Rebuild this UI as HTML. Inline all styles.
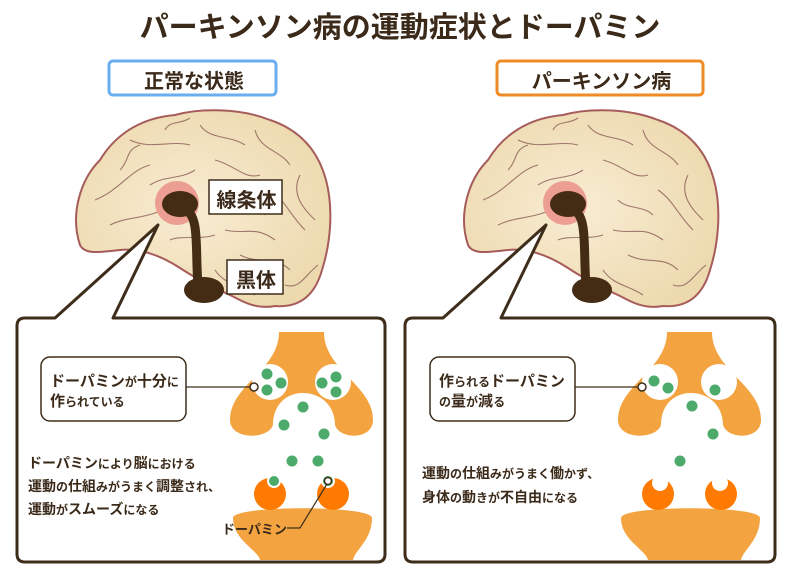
<!DOCTYPE html>
<html><head><meta charset="utf-8"><style>
body{margin:0;width:800px;height:578px;background:#fff;overflow:hidden;font-family:"Liberation Sans","Noto Sans CJK JP",sans-serif;color:#3b2a1a}
.t{position:absolute;font-weight:bold;white-space:nowrap}
.s{font-size:12px}
</style></head><body>
<svg width="800" height="578" style="position:absolute;left:0;top:0">
<defs>
<radialGradient id="bg" cx="45%" cy="50%" r="60%"><stop offset="0" stop-color="#f8ecd2"/><stop offset="1" stop-color="#ecd9ae"/></radialGradient>
<g id="brain">
<path d="M80,245 C70,215 80,180 100,160 C115,135 140,118 175,115 C200,108 240,108 270,120 C300,130 318,150 326,180 C334,210 330,245 322,270 C315,295 300,308 275,306 C255,310 240,300 232,296 C215,288 195,278 180,268 C160,255 140,248 120,250 C100,252 85,255 80,245 Z" fill="url(#bg)" stroke="#a65c5a" stroke-width="2"/>
<g fill="none" stroke="#8a5a55" stroke-width="1.1" opacity=".8">
<path d="M95,200 C120,190 130,170 150,165 M110,225 C130,215 150,220 170,205 M130,140 C150,150 170,140 190,145 M200,125 C210,140 230,135 245,145 M255,130 C260,150 280,150 290,165 M300,175 C290,195 305,210 315,220 M150,185 C165,175 180,180 195,170 M215,160 C235,165 245,180 260,175 M270,190 C285,200 290,215 305,230 M225,230 C245,235 255,225 275,240 M240,255 C260,265 275,255 290,270 M215,270 C225,285 240,285 255,295 M285,285 C300,290 305,275 318,265 M170,240 C180,235 200,240 215,235 M120,170 C130,160 125,150 140,145 M165,130 C170,120 180,125 190,118 M230,200 C240,210 255,205 265,215"/>
</g>
</g>
</defs>
<use href="#brain"/>
<use href="#brain" x="388"/>
<!-- left pathway -->
<circle cx="177" cy="203" r="22" fill="#ec9e92"/>
<path d="M185,210 C200,215 195,250 198,285" stroke="#442b14" stroke-width="9" fill="none" stroke-linecap="round"/>
<ellipse cx="180" cy="204" rx="18" ry="13" fill="#442b14"/>
<ellipse cx="204" cy="290" rx="20" ry="13" fill="#442b14"/>
<circle cx="565" cy="203" r="22" fill="#ec9e92"/>
<path d="M573,210 C588,215 583,250 586,285" stroke="#442b14" stroke-width="9" fill="none" stroke-linecap="round"/>
<ellipse cx="568" cy="204" rx="18" ry="13" fill="#442b14"/>
<ellipse cx="592" cy="290" rx="20" ry="13" fill="#442b14"/>
<!-- callouts -->
<g stroke="#3e2d1a" stroke-width="3" fill="#fff" stroke-linejoin="round">
<path d="M25,318 L55,318 L158,225 L113,318 L377,318 Q385,318 385,326 L385,554 Q385,562 377,562 L25,562 Q17,562 17,554 L17,326 Q17,318 25,318 Z"/>
<path d="M413,318 L443,318 L546,225 L501,318 L767,318 Q775,318 775,326 L775,554 Q775,562 767,562 L413,562 Q405,562 405,554 L405,326 Q405,318 413,318 Z"/>
</g>
<!-- synapse left -->
<g id="pre">
<path d="M279,332 L324,332 C324,370 373,385 373,420 C373,440 340,440 335,425 C335,405 320,393 303,393 C286,393 273,405 273,425 C268,440 230,440 230,420 C230,385 279,370 279,332 Z" fill="#f3a441"/>
</g>
<path d="M233,518 C233,505 372,505 372,518 C372,540 355,550 353,560 L260,560 C258,550 233,540 233,518 Z" fill="#f3a441"/>
<circle cx="270" cy="494" r="16" fill="#ff7a00"/><circle cx="333" cy="494" r="16" fill="#ff7a00"/>
<circle cx="270" cy="382" r="18" fill="#fff"/><circle cx="333" cy="382" r="18" fill="#fff"/>
<g fill="#4caa6a">
<circle cx="267" cy="374" r="5.5"/><circle cx="281" cy="383" r="5.5"/><circle cx="267" cy="390" r="5.5"/>
<circle cx="322" cy="383" r="5.5"/><circle cx="336" cy="377" r="5.5"/><circle cx="336" cy="392" r="5.5"/>
<circle cx="303" cy="407" r="5.5"/><circle cx="284" cy="425" r="5.5"/><circle cx="324" cy="434" r="5.5"/>
<circle cx="292" cy="461" r="5.5"/><circle cx="318" cy="461" r="5.5"/>
<circle cx="274" cy="481" r="6" stroke="#fff" stroke-width="2"/><circle cx="328" cy="481" r="6" stroke="#fff" stroke-width="2"/>
</g>
<circle cx="328" cy="481" r="3.5" fill="#fff" stroke="#3e2d1a" stroke-width="1.5"/>
<path d="M287,528 L300,528 L327,484" stroke="#3e2d1a" stroke-width="1.2" fill="none"/>
<path d="M186,387 L250,387" stroke="#3e2d1a" stroke-width="1.2"/>
<circle cx="254" cy="387" r="4" fill="#fff" stroke="#3e2d1a" stroke-width="1.5"/>
<rect x="41" y="357" width="145" height="64" rx="9" fill="#fff" stroke="#3e2d1a" stroke-width="1.5"/>
<!-- synapse right -->
<use href="#pre" x="388"/>
<path d="M621,518 C621,505 760,505 760,518 C760,540 743,550 741,560 L648,560 C646,550 621,540 621,518 Z" fill="#f3a441"/>
<circle cx="658" cy="494" r="16" fill="#ff7a00"/><circle cx="721" cy="494" r="16" fill="#ff7a00"/>
<circle cx="660" cy="483" r="8" fill="#fff"/><circle cx="720" cy="483" r="8" fill="#fff"/>
<circle cx="660" cy="382" r="18" fill="#fff"/><circle cx="719" cy="382" r="18" fill="#fff"/>
<g fill="#4caa6a">
<circle cx="654" cy="381" r="5.5"/><circle cx="668" cy="388" r="5.5"/><circle cx="715" cy="390" r="5.5"/>
<circle cx="692" cy="406" r="5.5"/><circle cx="713" cy="434" r="5.5"/><circle cx="680" cy="461" r="5.5"/>
</g>
<path d="M574,387 L638,387" stroke="#3e2d1a" stroke-width="1.2"/>
<circle cx="642" cy="387" r="4" fill="#fff" stroke="#3e2d1a" stroke-width="1.5"/>
<rect x="430" y="357" width="145" height="64" rx="9" fill="#fff" stroke="#3e2d1a" stroke-width="1.5"/>
<!-- label boxes -->
<rect x="109" y="61" width="167" height="34" rx="4" fill="#fff" stroke="#6aaef0" stroke-width="3"/>
<rect x="497" y="61" width="206" height="34" rx="4" fill="#fff" stroke="#f08a24" stroke-width="3"/>
<rect x="209" y="180" width="73" height="34" fill="#fff" stroke="#3e2d1a" stroke-width="1.5"/>
<rect x="227" y="260" width="56" height="34" fill="#fff" stroke="#3e2d1a" stroke-width="1.5"/>
</svg>
<div class="t" style="left:0;width:800px;text-align:center;top:4px;font-size:29px">パーキンソン病の運動症状とドーパミン</div>
<div class="t" style="left:109px;width:170px;text-align:center;top:65px;font-size:20px">正常な状態</div>
<div class="t" style="left:497px;width:209px;text-align:center;top:65px;font-size:20px">パーキンソン病</div>
<div class="t" style="left:209px;width:75px;text-align:center;top:184px;font-size:20px">線条体</div>
<div class="t" style="left:227px;width:58px;text-align:center;top:264px;font-size:20px">黒体</div>
<div class="t" style="left:50px;top:372px;font-size:15px;line-height:20px">ドーパミン<span class="s">が</span>十分<span class="s">に</span><br>作<span class="s">られている</span></div>
<div class="t" style="left:28px;top:452px;font-size:14px;line-height:22px">ドーパミン<span class="s">により</span>脳<span class="s">における</span><br>運動<span class="s">の</span>仕組<span class="s">みがうまく</span>調整<span class="s">され、</span><br>運動<span class="s">が</span>スムーズ<span class="s">になる</span></div>
<div class="t" style="left:222px;top:519px;font-size:13px">ドーパミン</div>
<div class="t" style="left:439px;top:372px;font-size:15px;line-height:20px">作<span class="s">られる</span>ドーパミン<br><span class="s">の</span>量<span class="s">が</span>減<span class="s">る</span></div>
<div class="t" style="left:422px;top:462px;font-size:14px;line-height:23px">運動<span class="s">の</span>仕組<span class="s">みがうまく</span>働<span class="s">かず、</span><br>身体<span class="s">の</span>動<span class="s">きが</span>不自由<span class="s">になる</span></div>
</body></html>
